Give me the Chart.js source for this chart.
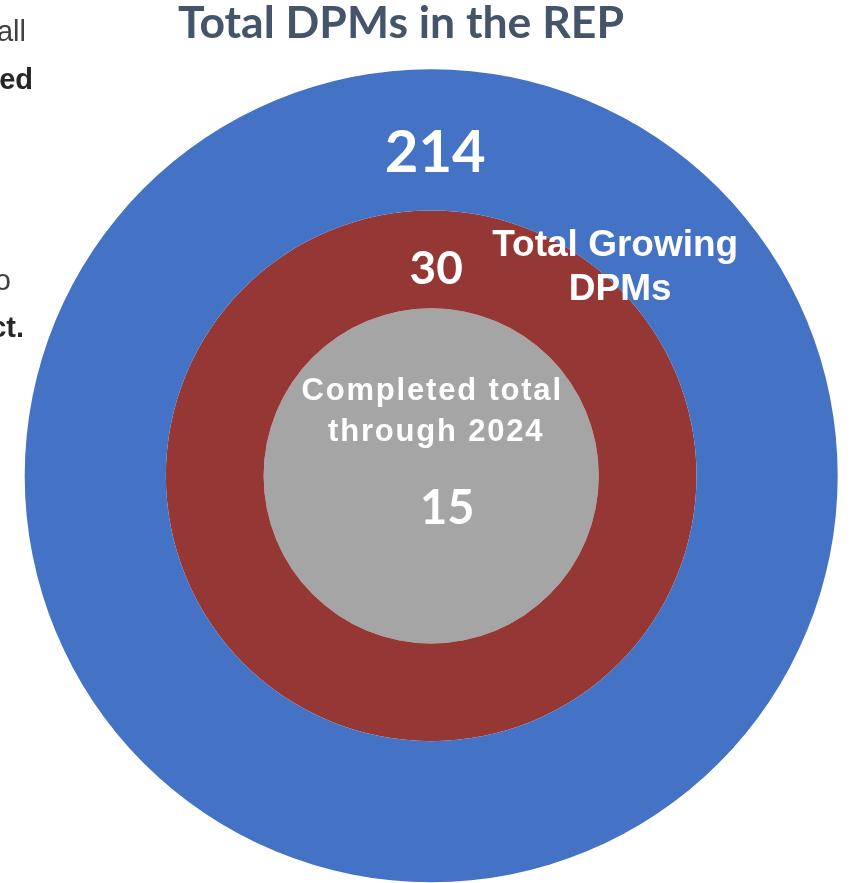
<!DOCTYPE html>
<html>
<head>
<meta charset="utf-8">
<script src="https://cdn.jsdelivr.net/npm/chart.js@4.4.1/dist/chart.umd.min.js"></script>
<style>
  html, body { margin: 0; padding: 0; background: #ffffff; overflow: hidden; }
  #wrap { position: relative; width: 851px; height: 883px; }
  canvas { display: block; }
</style>
</head>
<body>
<div id="wrap"><canvas id="c" width="851" height="883"></canvas></div>
<script>
// ---- data ----
const chartTitle = 'Total DPMs in the REP';
const categories = ['Total DPMs', 'Total Growing DPMs', 'Completed total through 2024'];
const totals = [214, 30, 15];
const ringLabels = [null, ['Total Growing', 'DPMs'], ['Completed total', 'through 2024']];
const sideFragments = ['all', 'ed', 'o', 'ct.'];

const colors = ['#4472C4', '#953735', '#A5A5A5'];
const ringWeights = [141.5, 98, 168];

const labelPlugin = {
  id: 'labels',
  afterDraw(chart) {
    const ctx = chart.ctx;
    const arc = chart.getDatasetMeta(0).data[0];
    const cx = arc.x, cy = arc.y;
    ctx.save();
    // title
    ctx.fillStyle = '#44546A';
    ctx.textAlign = 'center';
    ctx.textBaseline = 'alphabetic';
    ctx.font = 'bold 44.5px Lato';
    ctx.fillText(chartTitle, 401, 38);

    // left-edge cropped text fragments
    ctx.textAlign = 'right';
    ctx.fillStyle = '#404040';
    ctx.font = '29px "Liberation Sans"';
    ctx.fillText(sideFragments[0], 26, 41);
    ctx.fillText(sideFragments[2], 11, 290);
    ctx.fillStyle = '#262626';
    ctx.font = 'bold 29px "Liberation Sans"';
    ctx.fillText(sideFragments[1], 33, 89);
    ctx.fillText(sideFragments[3], 24, 337);

    // values
    ctx.fillStyle = '#ffffff';
    ctx.textAlign = 'center';
    ctx.font = 'bold 58px Lato';
    ctx.fillText(String(totals[0]), cx + 4, cy - 304);
    ctx.font = 'bold 46px Lato';
    ctx.fillText(String(totals[1]), cx + 5, cy - 192);
    ctx.font = 'bold 47px Lato';
    ctx.fillText(String(totals[2]), cx + 16, cy + 48);

    // ring names
    ctx.font = 'bold 37px "Liberation Sans"';
    ctx.fillText(ringLabels[1][0], cx + 184, cy - 220);
    ctx.fillText(ringLabels[1][1], cx + 189, cy - 176);

    ctx.font = 'bold 31px "Liberation Sans"';
    ctx.letterSpacing = '1.8px';
    ctx.fillText(ringLabels[2][0], cx + 1, cy - 76);
    ctx.fillText(ringLabels[2][1], cx + 5, cy - 35);
    ctx.restore();
  }
};

new Chart(document.getElementById('c'), {
  type: 'doughnut',
  data: {
    labels: [categories[0]],
    datasets: totals.map((v, i) => ({
      label: categories[i],
      data: [v],
      backgroundColor: [colors[i]],
      borderWidth: 0,
      hoverBorderWidth: 0,
      offset: 0,
      hoverOffset: 0,
      weight: ringWeights[i]
    }))
  },
  options: {
    responsive: false,
    animation: false,
    events: [],
    cutout: 0,
    layout: { padding: { left: 24.7, right: 13.3, top: 69.3, bottom: 0.7 } },
    plugins: {
      legend: { display: false },
      tooltip: { enabled: false },
      title: { display: false }
    }
  },
  plugins: [labelPlugin]
});
</script>
</body>
</html>
